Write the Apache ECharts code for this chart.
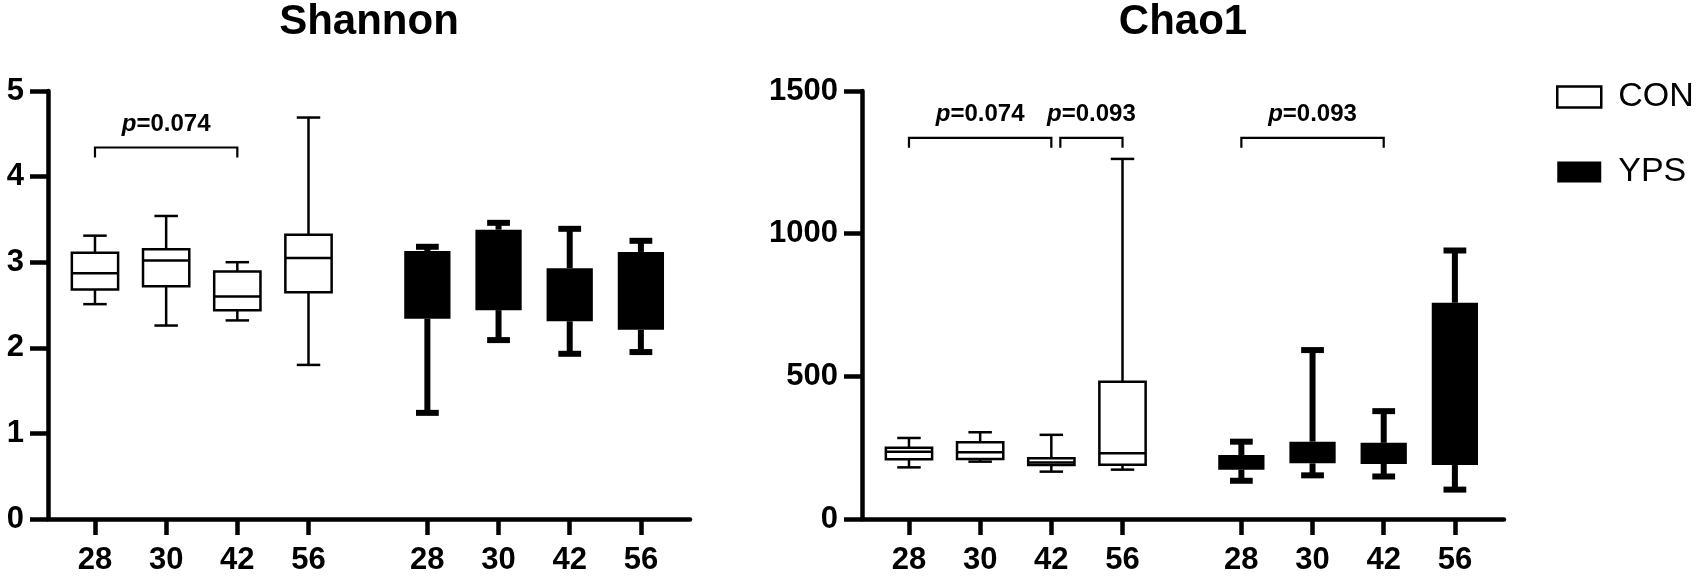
<!DOCTYPE html>
<html>
<head>
<meta charset="utf-8">
<title>Shannon / Chao1</title>
<script src="https://cdn.jsdelivr.net/npm/echarts@6/dist/echarts.min.js"></script>
<style>
html, body { margin: 0; padding: 0; background: #fff; }
#chart { width: 1707px; height: 579px; }
</style>
</head>
<body>
<div id="chart"></div>
<script>
// tick labels (days) - same four in each group
var days = ['28', '30', '42', '56'];
var groups = ['CON', 'YPS'];

// box values: [min, q1, median, q3, max]
var shannonCON = [
    [2.51, 2.68, 2.87, 3.11, 3.31],
    [2.26, 2.72, 3.02, 3.15, 3.54],
    [2.32, 2.44, 2.60, 2.89, 3.00],
    [1.80, 2.65, 3.05, 3.32, 4.69]
];
var shannonYPS = [
    [1.24, 2.34, 2.95, 3.13, 3.18],
    [2.09, 2.44, 3.10, 3.38, 3.46],
    [1.93, 2.31, 2.60, 2.93, 3.39],
    [1.95, 2.21, 2.80, 3.12, 3.25]
];
var chao1CON = [
    [181, 209, 236, 250, 284],
    [201, 210, 234, 269, 304],
    [166, 189, 198, 213, 295],
    [173, 190, 230, 481, 1262]
];
var chao1YPS = [
    [134, 173, 200, 224, 271],
    [153, 195, 230, 271, 592],
    [149, 193, 230, 267, 378],
    [103, 189, 400, 758, 941]
];

// significance brackets: slot index (0-3 CON, 4-7 YPS), height, p value
var shannonBrackets = [
    {from: 0, to: 2, y: 4.34, p: '0.074'}
];
var chao1Brackets = [
    {from: 0, to: 2, y: 1336, p: '0.074'},
    {from: 2, to: 3, y: 1336, p: '0.093'},
    {from: 4, to: 6, y: 1336, p: '0.093'}
];

var FONT = 'Liberation Sans, Arial, Helvetica, sans-serif';
var GROUP_STEP = 4.67;

function xPos(slot) {
    return Math.floor(slot / 4) * GROUP_STEP + slot % 4;
}
var slots = [0, 1, 2, 3, 4, 5, 6, 7];
var tickPos = slots.map(xPos);
var tickLabels = slots.map(function (s) { return days[s % 4]; });

function labelFor(v) {
    for (var i = 0; i < tickPos.length; i++) {
        if (Math.abs(tickPos[i] - v) < 0.01) return tickLabels[i];
    }
    return '';
}

function boxPoints(api) {
    var x = api.value(0);
    return {
        min: api.coord([x, api.value(1)]),
        q1: api.coord([x, api.value(2)]),
        med: api.coord([x, api.value(3)]),
        q3: api.coord([x, api.value(4)]),
        max: api.coord([x, api.value(5)]),
        unit: api.size([1, 0])[0]
    };
}

// open box (CON): thin outline, white fill, median line
function renderOpen(params, api) {
    var p = boxPoints(api);
    var cx = p.med[0], bw = p.unit * 0.65, cw = p.unit * 0.33;
    var ln = {stroke: '#000', lineWidth: 2.5};
    return {
        type: 'group',
        children: [
            {type: 'line', shape: {x1: cx, y1: p.q3[1], x2: cx, y2: p.max[1]}, style: ln},
            {type: 'line', shape: {x1: cx, y1: p.q1[1], x2: cx, y2: p.min[1]}, style: ln},
            {type: 'line', shape: {x1: cx - cw / 2, y1: p.max[1], x2: cx + cw / 2, y2: p.max[1]}, style: ln},
            {type: 'line', shape: {x1: cx - cw / 2, y1: p.min[1], x2: cx + cw / 2, y2: p.min[1]}, style: ln},
            {type: 'rect', shape: {x: cx - bw / 2, y: p.q3[1], width: bw, height: p.q1[1] - p.q3[1]},
                style: {fill: '#fff', stroke: '#000', lineWidth: 2.5}},
            {type: 'line', shape: {x1: cx - bw / 2, y1: p.med[1], x2: cx + bw / 2, y2: p.med[1]}, style: ln}
        ]
    };
}

// filled box (YPS): black box, heavy whiskers and caps
function renderFilled(params, api) {
    var p = boxPoints(api);
    var cx = p.med[0], bw = p.unit * 0.65, cw = p.unit * 0.32;
    var ln = {stroke: '#000', lineWidth: 6};
    return {
        type: 'group',
        children: [
            {type: 'line', shape: {x1: cx, y1: p.q3[1], x2: cx, y2: p.max[1]}, style: ln},
            {type: 'line', shape: {x1: cx, y1: p.q1[1], x2: cx, y2: p.min[1]}, style: ln},
            {type: 'rect', shape: {x: cx - cw / 2, y: p.max[1] - 3, width: cw, height: 6}, style: {fill: '#000'}},
            {type: 'rect', shape: {x: cx - cw / 2, y: p.min[1] - 3, width: cw, height: 6}, style: {fill: '#000'}},
            {type: 'rect', shape: {x: cx - bw / 2, y: p.q3[1], width: bw, height: p.q1[1] - p.q3[1]}, style: {fill: '#000'}}
        ]
    };
}

function boxSeries(name, idx, group, boxes) {
    return {
        name: name,
        type: 'custom',
        xAxisIndex: idx,
        yAxisIndex: idx,
        silent: true,
        clip: false,
        itemStyle: {color: group ? '#000' : '#fff', borderColor: '#000'},
        encode: {x: 0, y: [1, 2, 3, 4, 5]},
        data: boxes.map(function (b, i) { return [xPos(group * 4 + i)].concat(b); }),
        renderItem: group ? renderFilled : renderOpen
    };
}

function bracketSeries(idx, brackets) {
    return {
        type: 'custom',
        xAxisIndex: idx,
        yAxisIndex: idx,
        silent: true,
        clip: false,
        encode: {x: [0, 1], y: 2},
        data: brackets.map(function (b) {
            var shared = brackets.some(function (o) { return o.to === b.from; }) ? 1 : 0;
            return [xPos(b.from), xPos(b.to), b.y, shared];
        }),
        renderItem: function (params, api) {
            var a = api.coord([api.value(0), api.value(2)]);
            var b = api.coord([api.value(1), api.value(2)]);
            var x1 = a[0] + (api.value(3) ? 9 : 0), x2 = b[0], y = a[1];
            var label = brackets[params.dataIndex].p;
            return {
                type: 'group',
                children: [
                    {type: 'polyline', shape: {points: [[x1, y + 10], [x1, y], [x2, y], [x2, y + 10]]},
                        style: {stroke: '#000', lineWidth: 2.2, fill: null}},
                    {type: 'text', x: (x1 + x2) / 2, y: y - 23,
                        style: {
                            text: '{i|p}=' + label,
                            fill: '#000', fontSize: 24, fontWeight: 'bold', fontFamily: FONT,
                            align: 'center', verticalAlign: 'middle',
                            rich: {i: {fontStyle: 'italic', fontWeight: 'bold', fontSize: 24, fontFamily: FONT, fill: '#000'}}
                        }}
                ]
            };
        }
    };
}

function xAxisFor(idx) {
    return {
        gridIndex: idx,
        type: 'value',
        min: -0.66,
        max: 8.36,
        axisLine: {show: true, onZero: false, lineStyle: {color: '#000', width: 4.5}},
        axisTick: {show: true, customValues: tickPos, length: 16, lineStyle: {color: '#000', width: 4.5}},
        axisLabel: {
            customValues: tickPos, formatter: labelFor, margin: 26,
            fontSize: 31, fontWeight: 'bold', color: '#000', fontFamily: FONT
        },
        splitLine: {show: false}
    };
}

function yAxisFor(idx, max, step) {
    return {
        gridIndex: idx,
        type: 'value',
        min: 0,
        max: max,
        interval: step,
        axisLine: {show: true, onZero: false, lineStyle: {color: '#000', width: 4.5}},
        axisTick: {show: true, length: 18, lineStyle: {color: '#000', width: 4.5}},
        axisLabel: {
            margin: 24, fontSize: 31, fontWeight: 'bold', color: '#000', fontFamily: FONT,
            formatter: function (v) { return String(v); }
        },
        splitLine: {show: false}
    };
}

var chart = echarts.init(document.getElementById('chart'));

var option = {
    animation: false,
    backgroundColor: '#fff',
    title: [
        {text: 'Shannon', left: 369, top: 1, textAlign: 'center', padding: 0,
            textStyle: {fontSize: 42, fontWeight: 'bold', color: '#000', fontFamily: FONT}},
        {text: 'Chao1', left: 1183, top: 1, textAlign: 'center', padding: 0,
            textStyle: {fontSize: 42, fontWeight: 'bold', color: '#000', fontFamily: FONT}}
    ],
    legend: {
        orient: 'vertical',
        left: 1556,
        top: 80,
        padding: 0,
        itemGap: 41,
        itemWidth: 44,
        itemHeight: 21,
        selectedMode: false,
        data: [
            {name: groups[0], icon: 'rect', itemStyle: {color: '#fff', borderColor: '#000', borderWidth: 2.5}},
            {name: groups[1], icon: 'rect', itemStyle: {color: '#000', borderColor: '#000', borderWidth: 0}}
        ],
        // empty rich fragment as a spacer between swatch and name
        formatter: function (name) { return '{g|}' + name; },
        textStyle: {
            fontSize: 34, lineHeight: 34, color: '#000', fontFamily: FONT,
            rich: {g: {width: 12}}
        }
    },
    grid: [
        {left: 48, top: 91, width: 642, height: 428},
        {left: 862, top: 91, width: 642, height: 428}
    ],
    xAxis: [xAxisFor(0), xAxisFor(1)],
    yAxis: [yAxisFor(0, 5, 1), yAxisFor(1, 1500, 500)],
    series: [
        boxSeries(groups[0], 0, 0, shannonCON),
        boxSeries(groups[1], 0, 1, shannonYPS),
        boxSeries(groups[0], 1, 0, chao1CON),
        boxSeries(groups[1], 1, 1, chao1YPS),
        bracketSeries(0, shannonBrackets),
        bracketSeries(1, chao1Brackets)
    ]
};
chart.setOption(option);
</script>
</body>
</html>
